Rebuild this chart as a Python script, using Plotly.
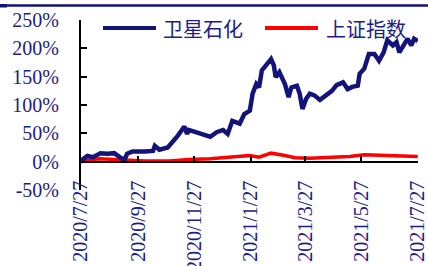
import plotly.graph_objects as go

# 卫星石化 cumulative return (%)
wx_dates = ["2020-07-27","2020-08-03","2020-08-09","2020-08-17","2020-08-25","2020-09-01","2020-09-07",
            "2020-09-12","2020-09-15","2020-09-21","2020-10-04","2020-10-13","2020-10-15","2020-10-20",
            "2020-10-29","2020-11-03","2020-11-09","2020-11-16","2020-11-19","2020-11-21","2020-11-24",
            "2020-11-29","2020-12-06","2020-12-14","2020-12-21","2020-12-28","2021-01-02","2021-01-07",
            "2021-01-15","2021-01-20","2021-01-26","2021-01-29","2021-02-02","2021-02-05","2021-02-08",
            "2021-02-14","2021-02-18","2021-02-21","2021-02-23","2021-02-27","2021-03-05","2021-03-09",
            "2021-03-12","2021-03-18","2021-03-21","2021-03-24","2021-03-28","2021-04-01","2021-04-06",
            "2021-04-12","2021-04-17","2021-04-25","2021-04-30","2021-05-07","2021-05-12","2021-05-17",
            "2021-05-23","2021-05-25","2021-05-30","2021-06-04","2021-06-10","2021-06-15","2021-06-20",
            "2021-06-24","2021-06-30","2021-07-04","2021-07-07","2021-07-13","2021-07-16","2021-07-20",
            "2021-07-23","2021-07-27"]
wx_values = [2,10,8,15,14,15,8,
             3,14,18,18,19,28,21,
             25,34,46,62,49,56,54,
             52,48,44,52,56,49,72,
             67,84,90,120,137,131,161,
             173,181,170,149,158,137,114,
             131,134,120,93,111,120,117,
             109,115,125,135,140,128,132,
             134,155,164,190,190,178,193,
             214,205,211,193,211,217,205,
             217,213]

# 上证指数 cumulative return (%)
sh_dates = ["2020-07-27","2020-08-05","2020-08-16","2020-09-01","2020-09-15","2020-10-04","2020-10-31",
            "2020-11-21","2020-12-14","2021-01-06","2021-01-26","2021-02-05","2021-02-18","2021-03-05",
            "2021-03-16","2021-04-01","2021-04-22","2021-05-14","2021-05-30","2021-06-15","2021-07-01",
            "2021-07-18","2021-07-27"]
sh_values = [0,3,5,4,2,1,1,
             4,5,9,11,8,15,11,
             7,6,7,9,12,11,10,
             10,9]

tick_dates = ["2020-07-27","2020-09-27","2020-11-27","2021-01-27","2021-03-27","2021-05-27","2021-07-27"]
tick_labels = ["2020/7/27","2020/9/27","2020/11/27","2021/1/27","2021/3/27","2021/5/27","2021/7/27"]
y_ticks = [-50, 0, 50, 100, 150, 200, 250]
y_labels = ["-50%", "0%", "50%", "100%", "150%", "200%", "250%"]
series_names = ["卫星石化", "上证指数"]

NAVY = "#14137a"
TEXT = "#1c1c8a"
RED = "#ff0000"
SERIF = "Liberation Serif, Times New Roman, DejaVu Serif, serif"
CJK = "Noto Sans CJK SC, sans-serif"

fig = go.Figure()
fig.add_trace(go.Scatter(x=sh_dates, y=sh_values, mode="lines", name=series_names[1],
                         line=dict(color=RED, width=3.5), showlegend=False))
fig.add_trace(go.Scatter(x=wx_dates, y=wx_values, mode="lines", name=series_names[0],
                         line=dict(color=NAVY, width=4.5), showlegend=False))

L, R, T, B = 81, 10, 20, 76
W, H = 428, 266
pw = W - L - R
ph = H - T - B

def px(x):
    return (x - L) / pw

def py(y):
    return (H - B - y) / ph

fig.update_layout(
    width=W, height=H,
    margin=dict(l=L, r=R, t=T, b=B, pad=0, autoexpand=False),
    paper_bgcolor="white", plot_bgcolor="white",
    font=dict(family=SERIF, size=20, color=TEXT),
    xaxis=dict(
        type="date", range=["2020-07-27", "2021-07-27 06:00"],
        tickvals=tick_dates, ticktext=tick_labels, tickangle=-90,
        ticks="inside", ticklen=5, tickwidth=2, tickcolor="black",
        showline=True, linecolor="black", linewidth=2,
        showgrid=False, zeroline=False,
        anchor="free", position=50/300,
        tickfont=dict(family=SERIF, size=20, color=TEXT),
        ticklabelstandoff=10,
        ticklabeloverflow="allow",
        automargin=False,
    ),
    yaxis=dict(
        range=[-50, 250], tickvals=y_ticks, ticktext=y_labels,
        ticks="inside", ticklen=6, tickwidth=2, tickcolor="black",
        showline=True, linecolor="black", linewidth=2,
        showgrid=False, zeroline=False,
        tickfont=dict(family=SERIF, size=20, color=TEXT),
        ticklabelstandoff=16,
        ticklabeloverflow="allow",
        automargin=False,
    ),
)

# decorative top rule
fig.add_shape(type="line", xref="paper", yref="paper",
              x0=px(0), x1=px(428), y0=py(5.5), y1=py(5.5),
              line=dict(color=NAVY, width=2.5))
fig.add_shape(type="rect", xref="paper", yref="paper",
              x0=px(0), x1=px(7), y0=py(7.5), y1=py(4),
              line=dict(width=0), fillcolor=NAVY)

# manual legend
leg_y = py(28)
fig.add_shape(type="line", xref="paper", yref="paper",
              x0=px(103), x1=px(156), y0=leg_y, y1=leg_y,
              line=dict(color=NAVY, width=4))
fig.add_annotation(xref="paper", yref="paper", x=px(161), y=leg_y, text=series_names[0],
                   showarrow=False, xanchor="left", yanchor="middle",
                   font=dict(family=CJK, size=20, color=TEXT))
fig.add_shape(type="line", xref="paper", yref="paper",
              x0=px(265), x1=px(318), y0=leg_y, y1=leg_y,
              line=dict(color=RED, width=4))
fig.add_annotation(xref="paper", yref="paper", x=px(324), y=leg_y, text=series_names[1],
                   showarrow=False, xanchor="left", yanchor="middle",
                   font=dict(family=CJK, size=20, color=TEXT))

fig.write_html("out.html", config={"displayModeBar": False},
               post_script="document.body.style.margin='0';document.body.style.padding='0';")
